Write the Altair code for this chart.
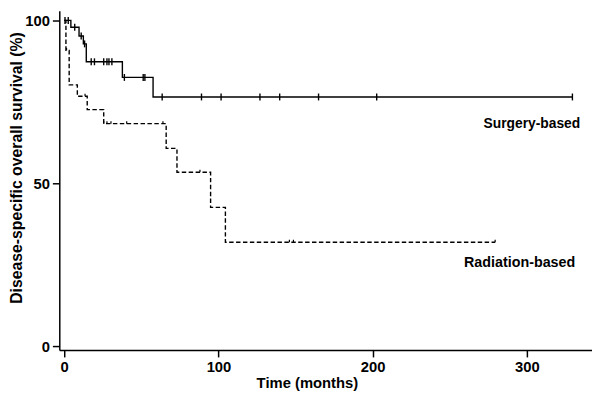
import altair as alt
import pandas as pd

# Kaplan-Meier step points (time in months, survival in %)
surg_t = [0, 4.3, 9.6, 12.4, 14.3, 37.7, 57.6, 329.5]
surg_s = [100, 97.9, 95.2, 92.8, 87.3, 82.5, 76.5, 76.5]
rad_t = [0, 1.1, 3.2, 8.5, 14.9, 25.6, 66.1, 73.1, 94.9, 104.5, 279.4]
rad_s = [100, 90.8, 80.2, 76.7, 72.6, 68.3, 60.7, 53.4, 42.6, 31.9, 31.9]

# censored observations
surg_cens_t = [0.5, 2.6, 6.8, 11.0, 13.2, 17.5, 19.6, 25.6, 27.7, 29.0, 30.9,
               39.0, 51.2, 52.3, 63.5, 89.0, 101.7, 126.9, 139.7, 164.9, 202.6, 329.5]
surg_cens_s = [100, 100, 97.9, 95.2, 92.8, 87.3, 87.3, 87.3, 87.3, 87.3, 87.3,
               82.5, 82.5, 82.5, 76.5, 76.5, 76.5, 76.5, 76.5, 76.5, 76.5, 76.5]
rad_cens_t = [1.5, 13.5, 25.6, 27.7, 30.3, 40.5, 64.0, 88.0, 146.0, 148.6, 279.4]
rad_cens_s = [90.8, 76.7, 68.3, 68.3, 68.3, 68.3, 68.3, 53.4, 31.9, 31.9, 31.9]

x_ticks = [0, 100, 200, 300]
y_ticks = [0, 50, 100]
labels = ["Surgery-based", "Radiation-based"]

FONT = "Liberation Sans"

surg = pd.DataFrame({"t": surg_t, "s": surg_s})
rad = pd.DataFrame({"t": rad_t, "s": rad_s})
surg_c = pd.DataFrame({"t": surg_cens_t, "s": surg_cens_s})
rad_c = pd.DataFrame({"t": rad_cens_t, "s": rad_cens_s})

xs = alt.Scale(domain=[-3.2, 342.2], nice=False, zero=False)
ys = alt.Scale(domain=[-1.2, 103], nice=False, zero=False)

x_enc = alt.X("t:Q", scale=xs, axis=alt.Axis(
    values=x_ticks, title="Time (months)", grid=False,
    titleX=251, titleY=33, titleAlign="center", titleBaseline="middle"))
y_enc = alt.Y("s:Q", scale=ys, axis=alt.Axis(
    values=y_ticks, title="Disease-specific overall survival (%)", grid=False,
    titleX=-43, titleY=159, titleAlign="center", titleBaseline="middle",
    titleFontSize=16))

line_s = alt.Chart(surg).mark_line(interpolate="step-after", color="black", strokeWidth=1.4).encode(x=x_enc, y=y_enc)
line_r = alt.Chart(rad).mark_line(interpolate="step-after", color="black", strokeWidth=1.4,
                                  strokeDash=[4.5, 2.5]).encode(x="t:Q", y="s:Q")

cens_s = alt.Chart(surg_c).mark_point(shape="M0,-1V1", size=49, filled=False, color="black",
                                      strokeWidth=1.4, opacity=1).encode(x="t:Q", y="s:Q")
cens_r = alt.Chart(rad_c).mark_point(shape="M0,0V-1", size=25, filled=False, color="black",
                                     strokeWidth=1.2, opacity=1).encode(x="t:Q", y="s:Q")

lab_s = alt.Chart(pd.DataFrame({"label": [labels[0]]})).mark_text(
    font=FONT, fontSize=14, fontWeight="bold", align="right", baseline="middle", color="black"
).encode(text="label:N", x=alt.value(528), y=alt.value(114.5))
lab_r = alt.Chart(pd.DataFrame({"label": [labels[1]]})).mark_text(
    font=FONT, fontSize=14.5, fontWeight="bold", align="right", baseline="middle", color="black"
).encode(text="label:N", x=alt.value(523), y=alt.value(255.5))

chart = alt.layer(line_s, line_r, cens_s, cens_r, lab_s, lab_r).properties(
    width=540, height=344,
    padding={"left": 52, "top": 0, "right": 0, "bottom": 50},
    autosize="none",
).configure_view(stroke=None).configure_axis(
    domainColor="black", domainWidth=1.5, tickColor="black", tickWidth=1.5, tickSize=7,
    labelFont=FONT, labelFontSize=15, labelFontWeight="bold", labelColor="black",
    titleFont=FONT, titleFontSize=15, titleFontWeight="bold", titleColor="black",
    labelPadding=3,
)

chart.save("out.html", embed_options={"renderer": "svg", "actions": False})
